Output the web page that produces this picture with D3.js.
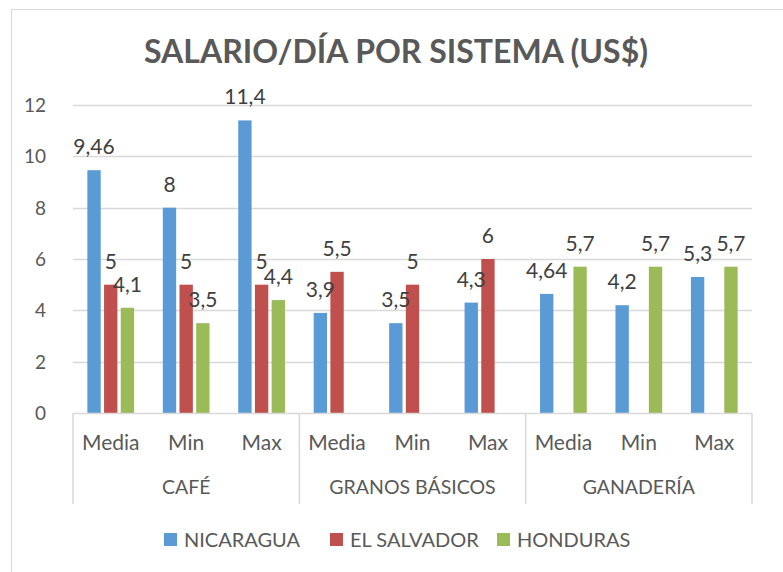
<!DOCTYPE html>
<html>
<head>
<meta charset="utf-8">
<script src="https://cdn.jsdelivr.net/npm/d3@7"></script>
<style>
  html, body { margin: 0; padding: 0; background: #fff; }
  svg { display: block; }
  text { font-family: Lato, "Open Sans", sans-serif; }
</style>
</head>
<body>
<svg id="chart" width="783" height="572"></svg>
<script>
const title = "SALARIO/DÍA POR SISTEMA (US$)";
const groups = ["CAFÉ", "GRANOS BÁSICOS", "GANADERÍA"];
const subcats = ["Media", "Min", "Max"];
const series = ["NICARAGUA", "EL SALVADOR", "HONDURAS"];
const colors = ["#5b9bd5", "#c0504d", "#9bbb59"];
// values per series, in order: CAFÉ(Media,Min,Max), GRANOS(Media,Min,Max), GANADERÍA(Media,Min,Max)
const nicaragua  = [9.46, 8, 11.4, 3.9, 3.5, 4.3, 4.64, 4.2, 5.3];
const elSalvador = [5, 5, 5, 5.5, 5, 6, null, null, null];
const honduras   = [4.1, 3.5, 4.4, null, null, null, 5.7, 5.7, 5.7];
const yTicks = [0, 2, 4, 6, 8, 10, 12];
const labelsNic = ["9,46", "8", "11,4", "3,9", "3,5", "4,3", "4,64", "4,2", "5,3"];
const labelsSal = ["5", "5", "5", "5,5", "5", "6", null, null, null];
const labelsHon = ["4,1", "3,5", "4,4", null, null, null, "5,7", "5,7", "5,7"];

const seriesValues = [nicaragua, elSalvador, honduras];
const seriesLabels = [labelsNic, labelsSal, labelsHon];

const svg = d3.select("#chart");
const mLeft = 73, mRight = 752, mTop = 105, mBottom = 413;

// outer chart border
svg.append("rect").attr("x", 11.5).attr("y", 9.5).attr("width", 790).attr("height", 600)
  .attr("fill", "none").attr("stroke", "#d9d9d9").attr("stroke-width", 1);

// title
svg.append("text").attr("x", 396).attr("y", 63).attr("text-anchor", "middle")
  .attr("font-size", 32).attr("font-weight", "bold").attr("fill", "#595959").text(title);

// keys for each subcategory slot
const slots = [];
groups.forEach(g => subcats.forEach(s => slots.push(g + "|" + s)));

const x0 = d3.scaleBand().domain(slots).range([mLeft, mRight]).paddingInner(0).paddingOuter(0);
const x1 = d3.scaleBand().domain(series).range([0, x0.bandwidth()]).paddingInner(0.2).paddingOuter(0.86);
const y = d3.scaleLinear().domain([0, 12]).range([mBottom, mTop]);

// gridlines
svg.append("g").selectAll("line").data(yTicks.filter(t => t > 0)).join("line")
  .attr("x1", mLeft).attr("x2", mRight)
  .attr("y1", d => Math.round(y(d)) + 0.5).attr("y2", d => Math.round(y(d)) + 0.5)
  .attr("stroke", "#d9d9d9").attr("stroke-width", 1.3);

// y axis labels
const yAxis = d3.axisLeft(y).tickValues(yTicks).tickSize(0).tickPadding(0).tickFormat(d3.format("d"));
const yg = svg.append("g").attr("transform", `translate(${mLeft - 27},0)`).call(yAxis);
yg.select(".domain").remove();
yg.selectAll("text").attr("font-size", 19).attr("fill", "#595959")
  .attr("font-family", "Lato, 'Open Sans', sans-serif").attr("dy", "0.35em");

// bars
const barData = [];
seriesValues.forEach((vals, si) => {
  vals.forEach((v, i) => {
    if (v !== null) barData.push({ slot: slots[i], s: series[si], v: v, c: colors[si], label: seriesLabels[si][i] });
  });
});

svg.append("g").selectAll("rect").data(barData).join("rect")
  .attr("x", d => x0(d.slot) + x1(d.s))
  .attr("y", d => y(d.v))
  .attr("width", x1.bandwidth())
  .attr("height", d => y(0) - y(d.v))
  .attr("fill", d => d.c);

// data labels
svg.append("g").selectAll("text").data(barData).join("text")
  .attr("x", d => x0(d.slot) + x1(d.s) + x1.bandwidth() / 2)
  .attr("y", d => y(d.v) - 16)
  .attr("text-anchor", "middle")
  .attr("font-size", 21).attr("fill", "#404040")
  .text(d => d.label);

// x axis baseline
svg.append("line").attr("x1", mLeft).attr("x2", mRight).attr("y1", mBottom + 0.5).attr("y2", mBottom + 0.5)
  .attr("stroke", "#d9d9d9").attr("stroke-width", 1.5);

// group separators
const groupBounds = [0, 3, 6, 9].map(i => i < 9 ? x0(slots[i]) : mRight);
svg.append("g").selectAll("line").data(groupBounds).join("line")
  .attr("x1", d => d).attr("x2", d => d).attr("y1", mBottom).attr("y2", 504)
  .attr("stroke", "#d9d9d9").attr("stroke-width", 1.5);

// subcategory labels
svg.append("g").selectAll("text").data(slots).join("text")
  .attr("x", d => x0(d) + x0.bandwidth() / 2).attr("y", 450)
  .attr("text-anchor", "middle").attr("font-size", 21).attr("fill", "#595959")
  .text(d => d.split("|")[1]);

// group labels
svg.append("g").selectAll("text").data(groups).join("text")
  .attr("x", (d, i) => (groupBounds[i] + groupBounds[i + 1]) / 2).attr("y", 494)
  .attr("text-anchor", "middle").attr("font-size", 19.5).attr("fill", "#595959")
  .text(d => d);

// legend
const legendX = [164, 330, 497];
const lg = svg.append("g").selectAll("g").data(series).join("g")
  .attr("transform", (d, i) => `translate(${legendX[i]},533)`);
lg.append("rect").attr("width", 13).attr("height", 13).attr("fill", (d, i) => colors[i]);
lg.append("text").attr("x", 20).attr("y", 13.5).attr("font-size", 20).attr("fill", "#595959").text(d => d);
</script>
</body>
</html>
